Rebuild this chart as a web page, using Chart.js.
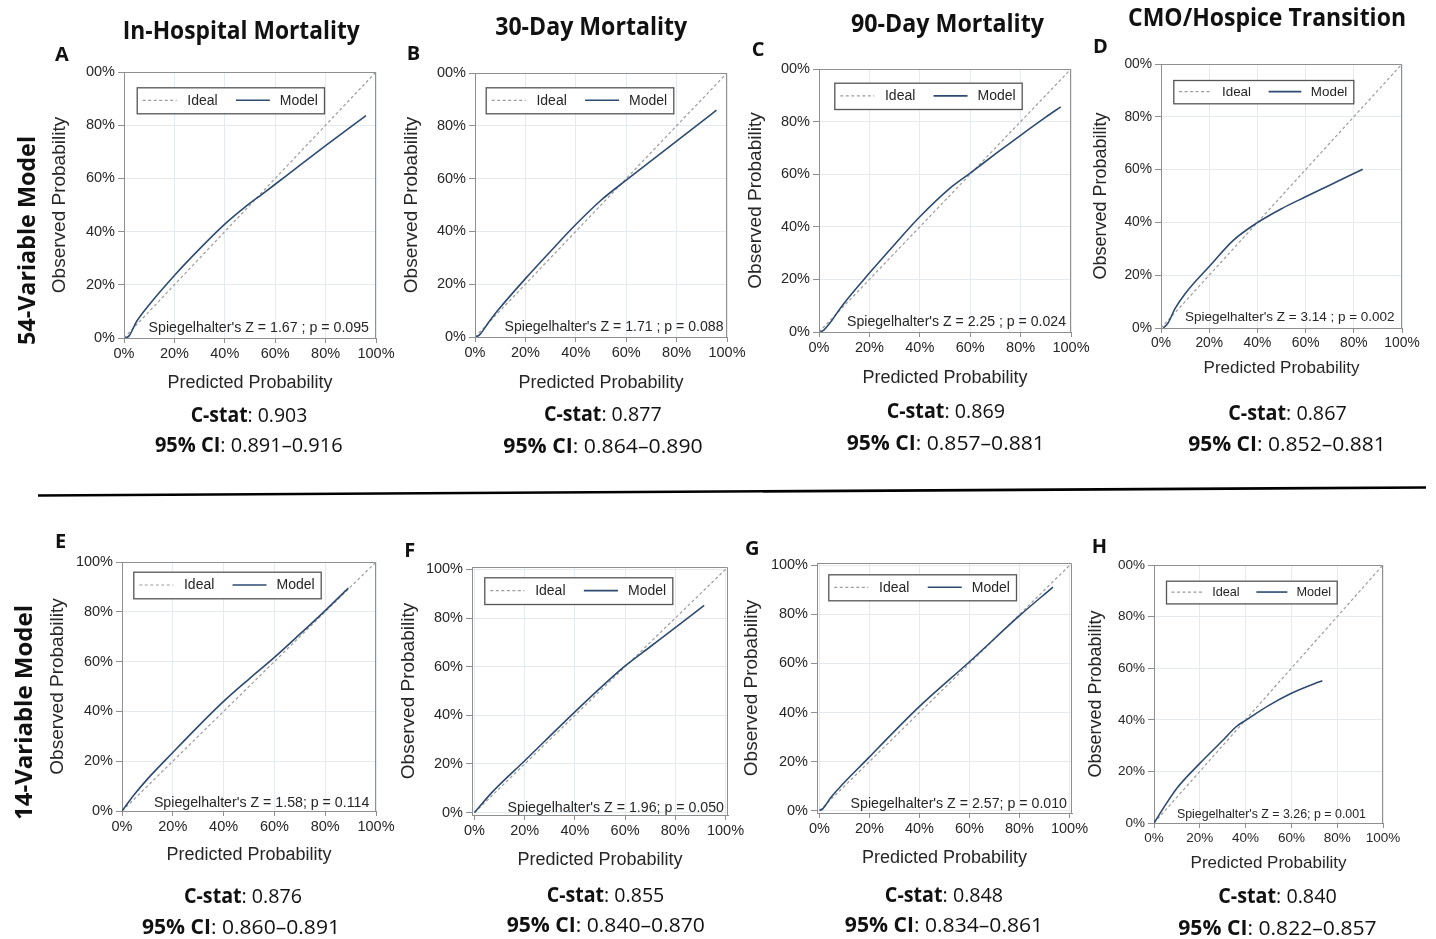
<!DOCTYPE html>
<html><head><meta charset="utf-8">
<script src="https://cdn.jsdelivr.net/npm/chart.js@4.4.0/dist/chart.umd.min.js"></script>
<style>
html,body{margin:0;padding:0;background:#fff;}
body{width:1436px;height:939px;position:relative;overflow:hidden;}
canvas.panel{position:absolute;}
svg#overlay{position:absolute;left:0;top:0;pointer-events:none;}
</style></head><body>
<svg id="overlay" width="1436" height="939" xmlns="http://www.w3.org/2000/svg"></svg>
<script>
// ---------------- DATA ----------------
const tickValues = [0, 0.2, 0.4, 0.6, 0.8, 1.0];
const xTickLabels = ['0%', '20%', '40%', '60%', '80%', '100%'];
const yTickLabelsFull = ['0%', '20%', '40%', '60%', '80%', '100%'];
const yTickLabelsCut = ['0%', '20%', '40%', '60%', '80%', '00%'];
const idealX = [0, 1];
const idealY = [0, 1];
const seriesNames = ['Ideal', 'Model'];
const xAxisTitle = 'Predicted Probability';
const yAxisTitle = 'Observed Probability';

const modelA_x = [0.005, 0.02, 0.05, 0.10, 0.20, 0.30, 0.40, 0.48, 0.55, 0.60, 0.70, 0.80, 0.90, 0.96];
const modelA_y = [0.000, 0.008, 0.062, 0.125, 0.235, 0.335, 0.428, 0.492, 0.542, 0.578, 0.651, 0.723, 0.794, 0.836];
const modelB_x = [0.005, 0.02, 0.05, 0.09, 0.20, 0.30, 0.40, 0.50, 0.60, 0.70, 0.80, 0.90, 0.958];
const modelB_y = [0.000, 0.010, 0.050, 0.100, 0.221, 0.325, 0.426, 0.518, 0.594, 0.668, 0.742, 0.816, 0.859];
const modelC_x = [0.005, 0.02, 0.04, 0.095, 0.20, 0.30, 0.40, 0.52, 0.60, 0.70, 0.80, 0.90, 0.959];
const modelC_y = [0.000, 0.008, 0.030, 0.104, 0.224, 0.333, 0.438, 0.547, 0.604, 0.677, 0.748, 0.817, 0.856];
const modelD_x = [0.01, 0.03, 0.058, 0.10, 0.204, 0.30, 0.398, 0.50, 0.60, 0.70, 0.80, 0.837];
const modelD_y = [0.000, 0.020, 0.073, 0.130, 0.237, 0.332, 0.398, 0.452, 0.497, 0.541, 0.585, 0.601];
const modelE_x = [0.00, 0.05, 0.10, 0.20, 0.30, 0.40, 0.50, 0.60, 0.70, 0.80, 0.891];
const modelE_y = [0.000, 0.068, 0.128, 0.235, 0.340, 0.440, 0.530, 0.617, 0.710, 0.805, 0.895];
const modelF_x = [0.00, 0.066, 0.20, 0.40, 0.52, 0.60, 0.70, 0.80, 0.915];
const modelF_y = [0.000, 0.079, 0.213, 0.414, 0.530, 0.603, 0.682, 0.761, 0.852];
const modelG_x = [0.00, 0.013, 0.046, 0.199, 0.397, 0.60, 0.80, 0.934];
const modelG_y = [0.000, 0.007, 0.054, 0.218, 0.422, 0.607, 0.795, 0.912];
const modelH_x = [0.00, 0.055, 0.10, 0.201, 0.30, 0.36, 0.404, 0.50, 0.60, 0.70, 0.735];
const modelH_y = [0.000, 0.077, 0.135, 0.232, 0.320, 0.374, 0.400, 0.455, 0.503, 0.540, 0.551];

const spiegelNotes = [
  "Spiegelhalter's Z = 1.67 ; p = 0.095",
  "Spiegelhalter's Z = 1.71 ; p = 0.088",
  "Spiegelhalter's Z = 2.25 ; p = 0.024",
  "Spiegelhalter's Z = 3.14 ; p = 0.002",
  "Spiegelhalter's Z = 1.58; p = 0.114",
  "Spiegelhalter's Z = 1.96; p = 0.050",
  "Spiegelhalter's Z = 2.57; p = 0.010",
  "Spiegelhalter's Z = 3.26; p = 0.001"
];
const panelLetters = ['A', 'B', 'C', 'D', 'E', 'F', 'G', 'H'];
const columnTitles = ['In-Hospital Mortality', '30-Day Mortality', '90-Day Mortality', 'CMO/Hospice Transition'];
const rowLabels = ['54-Variable Model', '14-Variable Model'];
const cStats = ['0.903', '0.877', '0.869', '0.867', '0.876', '0.855', '0.848', '0.840'];
const ciLow = ['0.891', '0.864', '0.857', '0.852', '0.860', '0.840', '0.834', '0.822'];
const ciHigh = ['0.916', '0.890', '0.881', '0.881', '0.891', '0.870', '0.861', '0.857'];

// ---------------- LAYOUT (positions / sizes / styles) ----------------
const L = 90, R = 40, T = 10, B = 62;
const COLORS = { model: '#2d4a70', ideal: '#9c9c9c', frame: '#8f8f8f', grid: '#e4eaee', text: '#262626', legendBorder: '#555' };
const FONT = "'Liberation Sans', Arial, Helvetica, sans-serif";
const HEAD = "'Open Sans', 'Noto Sans', sans-serif";

const panels = [
  { frame: [124, 72, 376, 338], range: [0, 1], yl: yTickLabelsCut, tick: 14.5, tt: 18, yDist: 64, xDist: 45, mx: modelA_x, my: modelA_y, noteInset: 7, noteBase: 6, noteSize: 14.2, lg: [12.7, 15.3, 187.3, 26] },
  { frame: [475, 73, 727, 337], range: [0, 1], yl: yTickLabelsCut, tick: 14.5, tt: 18, yDist: 63, xDist: 46.5, mx: modelB_x, my: modelB_y, noteInset: 3.5, noteBase: 6.5, noteSize: 14.1, lg: [10.7, 14.3, 187.6, 26] },
  { frame: [819, 69, 1071, 332], range: [0, 1], yl: yTickLabelsCut, tick: 14.5, tt: 18, yDist: 63, xDist: 46, mx: modelC_x, my: modelC_y, noteInset: 5, noteBase: 6.3, noteSize: 14.1, lg: [15.3, 13.7, 187.4, 26.3] },
  { frame: [1161, 64, 1402, 328], range: [0, 1], yl: yTickLabelsCut, tick: 13.8, tt: 17, yDist: 60, xDist: 40.5, mx: modelD_x, my: modelD_y, noteInset: 7.4, noteBase: 7.5, noteSize: 13.5, lg: [12.3, 16, 180, 23.3] },
  { frame: [122, 562, 376, 811], range: [0, 1], yl: yTickLabelsFull, tick: 14.5, tt: 18, yDist: 64, xDist: 44, mx: modelE_x, my: modelE_y, noteInset: 6.7, noteBase: 4, noteSize: 14.2, lg: [11.3, 9.7, 187.4, 26.6] },
  { frame: [472, 567, 728, 815], range: [-0.01, 1.01], yl: yTickLabelsFull, tick: 14.5, tt: 18, yDist: 63, xDist: 45, mx: modelF_x, my: modelF_y, noteInset: 4, noteBase: 3.3, noteSize: 14.2, lg: [12.3, 10.3, 188, 26.7] },
  { frame: [817, 563, 1072, 813], range: [-0.01, 1.01], yl: yTickLabelsFull, tick: 14.5, tt: 18, yDist: 65, xDist: 45.5, mx: modelG_x, my: modelG_y, noteInset: 5, noteBase: 5.4, noteSize: 14.2, lg: [11.3, 11.3, 187.7, 26] },
  { frame: [1154, 565, 1383, 823], range: [0, 1], yl: yTickLabelsCut, tick: 13.5, tt: 17, yDist: 58, xDist: 40, mx: modelH_x, my: modelH_y, noteInset: 17, noteBase: 5, noteSize: 12.4, lg: [12, 15.7, 170.7, 22.7] }
];

function makeDecor(p, note) {
  return {
    id: 'decor',
    afterDatasetsDraw(chart) {
      const { ctx, chartArea: a } = chart;
      ctx.save();
      // frame top and right
      ctx.strokeStyle = COLORS.frame; ctx.lineWidth = 1;
      ctx.beginPath();
      ctx.moveTo(a.left, a.top + 0.5); ctx.lineTo(a.right - 0.5, a.top + 0.5); ctx.lineTo(a.right - 0.5, a.bottom);
      ctx.stroke();
      // legend box
      const [lx, ly, lw, lh] = p.lg;
      const x0 = a.left + lx, y0 = a.top + ly, s = lw / 187.5, cy = y0 + lh / 2;
      ctx.fillStyle = '#fff'; ctx.fillRect(x0, y0, lw, lh);
      ctx.strokeStyle = COLORS.legendBorder; ctx.lineWidth = 1.3;
      ctx.strokeRect(x0 + 0.5, y0 + 0.5, lw, lh);
      const ds = chart.data.datasets;
      const items = [[6, 40, 50.7], [99.3, 133.3, 143.3]];
      ctx.font = (14 * s).toFixed(1) + 'px ' + FONT;
      ctx.textBaseline = 'middle'; ctx.textAlign = 'left';
      ds.forEach((d, i) => {
        const [a1, a2, tx] = items[i];
        ctx.beginPath();
        ctx.setLineDash(d.borderDash || []);
        ctx.strokeStyle = d.borderColor; ctx.lineWidth = d.borderWidth;
        ctx.moveTo(x0 + a1 * s, cy); ctx.lineTo(x0 + a2 * s, cy); ctx.stroke();
        ctx.setLineDash([]);
        ctx.fillStyle = COLORS.text;
        ctx.fillText(d.label, x0 + tx * s, cy + 0.5);
      });
      // Spiegelhalter note
      ctx.font = p.noteSize + 'px ' + FONT;
      ctx.textAlign = 'right'; ctx.textBaseline = 'alphabetic';
      ctx.fillStyle = COLORS.text;
      ctx.fillText(note, a.right - p.noteInset, a.bottom - p.noteBase);
      ctx.restore();
    }
  };
}

function toPoints(xs, ys) { return xs.map((x, i) => ({ x: x, y: ys[i] })); }

panels.forEach((p, idx) => {
  const [fx0, fy0, fx1, fy1] = p.frame;
  const cv = document.createElement('canvas');
  cv.className = 'panel';
  const w = (fx1 - fx0) + L + R, h = (fy1 - fy0) + T + B;
  cv.width = w; cv.height = h;
  cv.style.left = (fx0 - L) + 'px'; cv.style.top = (fy0 - T) + 'px';
  cv.style.width = w + 'px'; cv.style.height = h + 'px';
  document.body.insertBefore(cv, document.getElementById('overlay'));
  const lhT = p.tt * 1.2;
  const tickFont = { family: FONT, size: p.tick };
  const titleFont = { family: FONT, size: p.tt };
  const setTicks = s => { s.ticks = tickValues.map(v => ({ value: v })); };
  new Chart(cv, {
    type: 'line',
    data: {
      datasets: [
        { label: seriesNames[0], data: toPoints(idealX, idealY), borderColor: COLORS.ideal, borderWidth: 1.2, borderDash: [3, 2.5], pointRadius: 0, fill: false, order: 2 },
        { label: seriesNames[1], data: toPoints(p.mx, p.my), borderColor: COLORS.model, borderWidth: 1.6, pointRadius: 0, fill: false, cubicInterpolationMode: 'monotone', order: 1 }
      ]
    },
    options: {
      responsive: false, animation: false, devicePixelRatio: 1,
      parsing: false, normalized: true,
      layout: { padding: { top: T, right: R, left: 0, bottom: 0 }, autoPadding: false },
      plugins: { legend: { display: false }, tooltip: { enabled: false } },
      scales: {
        x: {
          type: 'linear', position: 'bottom', min: p.range[0], max: p.range[1],
          afterBuildTicks: setTicks,
          ticks: { callback: v => xTickLabels[tickValues.indexOf(v)], font: tickFont, color: COLORS.text, padding: 2, maxRotation: 0, autoSkip: false },
          grid: { color: COLORS.grid, tickLength: 5, tickColor: COLORS.frame, lineWidth: 1 },
          border: { color: COLORS.frame, width: 1 },
          title: { display: true, text: xAxisTitle, font: titleFont, color: COLORS.text, padding: { top: 0, bottom: B - p.xDist - lhT / 2 } },
          afterFit: s => { s.height = B; s.paddingLeft = 0; s.paddingRight = 0; }
        },
        y: {
          type: 'linear', position: 'left', min: p.range[0], max: p.range[1],
          afterBuildTicks: setTicks,
          ticks: { callback: v => p.yl[tickValues.indexOf(v)], font: tickFont, color: COLORS.text, padding: 3, autoSkip: false },
          grid: { color: COLORS.grid, tickLength: 6, tickColor: COLORS.frame, lineWidth: 1 },
          border: { color: COLORS.frame, width: 1 },
          title: { display: true, text: yAxisTitle, font: { family: FONT, size: p.tt + 1 }, color: COLORS.text, padding: { top: L - p.yDist - (p.tt + 1) * 1.2 / 2, bottom: 0 } },
          afterFit: s => { s.width = L; s.paddingTop = 0; s.paddingBottom = 0; }
        }
      }
    },
    plugins: [makeDecor(p, spiegelNotes[idx])]
  });
});

// ---------------- SVG TEXT ----------------
const NS = 'http://www.w3.org/2000/svg';
const svg = document.getElementById('overlay');
function addText(parts, attrs) {
  const t = document.createElementNS(NS, 'text');
  for (const k in attrs) t.setAttribute(k, attrs[k]);
  parts.forEach(([txt, weight]) => {
    const s = document.createElementNS(NS, 'tspan');
    s.textContent = txt;
    if (weight) s.setAttribute('font-weight', weight);
    t.appendChild(s);
  });
  svg.appendChild(t);
  return t;
}
const titlePos = [[241.3, 39.3, 237], [591.2, 35, 192], [947.5, 31.7, 193], [1267, 26, 278]];
columnTitles.forEach((s, i) => {
  const [cx, by, w] = titlePos[i];
  addText([[s, 'bold']], { x: cx, y: by, 'text-anchor': 'middle', 'font-family': HEAD, 'font-size': 25, fill: '#111', textLength: w, lengthAdjust: 'spacingAndGlyphs' });
});
const letterPos = [[55, 60.7], [406.7, 60], [751.7, 56], [1093, 53.3], [55, 548.3], [404.3, 556.7], [745, 555], [1091.7, 552.7]];
panelLetters.forEach((s, i) => {
  addText([[s, 'bold']], { x: letterPos[i][0], y: letterPos[i][1], 'font-family': HEAD, 'font-size': 20, fill: '#111' });
});
const statPos = [
  [249, 421.7, 116.7, 248.8, 451.7, 187.7],
  [602.8, 421, 117.7, 603, 453.3, 199.4],
  [945.8, 418.3, 118.3, 945.8, 450, 198.3],
  [1287.5, 420, 118.4, 1287, 450.7, 197.7],
  [243, 903, 118, 241, 934, 198],
  [605.5, 901.7, 117.6, 605.8, 931.7, 198.3],
  [944, 901.7, 118.3, 944, 931.7, 198.3],
  [1277.5, 902.7, 118.4, 1277.5, 935, 198.4]
];
cStats.forEach((c, i) => {
  const [cx1, b1, w1, cx2, b2, w2] = statPos[i];
  addText([['C-stat', 'bold'], [': ' + c, null]], { x: cx1, y: b1, 'text-anchor': 'middle', 'font-family': HEAD, 'font-size': 20.5, fill: '#111', textLength: w1, lengthAdjust: 'spacingAndGlyphs' });
  addText([['95% CI', 'bold'], [': ' + ciLow[i] + '\u2013' + ciHigh[i], null]], { x: cx2, y: b2, 'text-anchor': 'middle', 'font-family': HEAD, 'font-size': 20.5, fill: '#111', textLength: w2, lengthAdjust: 'spacingAndGlyphs' });
});
const rowPos = [[35, 240.5, 209], [31.7, 712.5, 215]];
rowLabels.forEach((s, i) => {
  const [bx, cy, w] = rowPos[i];
  addText([[s, 'bold']], { x: 0, y: 0, transform: 'translate(' + bx + ',' + cy + ') rotate(-90)', 'text-anchor': 'middle', 'font-family': HEAD, 'font-size': 24, fill: '#111', textLength: w, lengthAdjust: 'spacingAndGlyphs' });
});
const sep = document.createElementNS(NS, 'line');
sep.setAttribute('x1', 38); sep.setAttribute('y1', 495.5);
sep.setAttribute('x2', 1426); sep.setAttribute('y2', 487.5);
sep.setAttribute('stroke', '#000'); sep.setAttribute('stroke-width', 2.6);
svg.appendChild(sep);
</script>
</body></html>
